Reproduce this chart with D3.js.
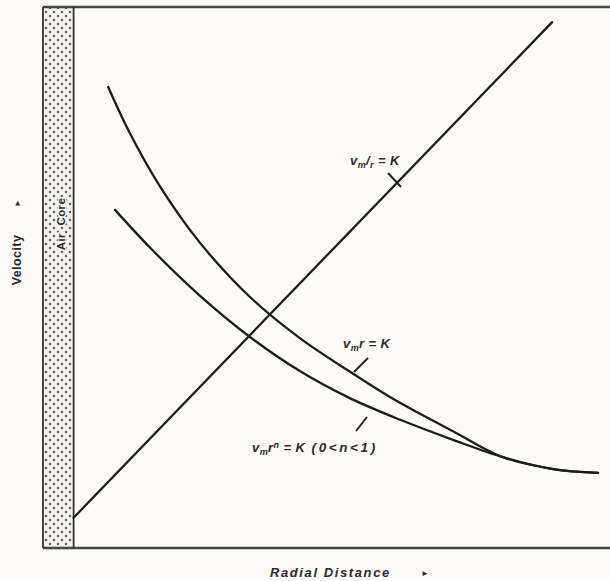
<!DOCTYPE html>
<html>
<head>
<meta charset="utf-8">
<script src="https://cdn.jsdelivr.net/npm/d3@7/dist/d3.min.js"></script>
<style>
  html, body { margin: 0; padding: 0; background: #fcfbf7; }
  svg { display: block; }
  text { font-family: "Liberation Sans", Arial, sans-serif; font-weight: bold; fill: #2a2a2a; }
</style>
</head>
<body>
<svg id="chart" width="610" height="581"></svg>
<script>
// Velocity profiles across a vortex (arbitrary units, 0..100 on each axis)
const airCore = [0, 5.4];                       // radial extent of the air core
const forcedVortex = [[5.4, 5.6], [89.8, 97.2]]; // v/r = K
const freeVortex = [                            // v·r = K
  [11.5, 85.2], [15.3, 76.7], [20.6, 66.9], [27.7, 56.4], [36.5, 46.4],
  [45.3, 38.8], [54.7, 32.2], [61.2, 27.9], [66.5, 24.8], [72.3, 21.6],
  [81.1, 16.8], [90.0, 14.6], [97.9, 13.9]
];
const partialVortex = [                         // v·r^n = K, 0<n<1
  [12.7, 62.5], [18.9, 55.5], [27.7, 46.6], [36.5, 39.0], [45.3, 32.7],
  [54.1, 27.7], [63.0, 23.7], [72.3, 20.0], [81.1, 16.8], [90.0, 14.6],
  [97.9, 13.9]
];
const xLabel = "Radial Distance";
const yLabel = "Velocity";
const coreLabel = "Air Core";

const svg = d3.select("#chart");
const x = d3.scaleLinear().domain([0, 100]).range([43, 610]);
const y = d3.scaleLinear().domain([0, 100]).range([548, 7]);

// stipple pattern for the air core
const defs = svg.append("defs");
const pat = defs.append("pattern").attr("id", "stipple")
  .attr("patternUnits", "userSpaceOnUse").attr("width", 8).attr("height", 8)
  .attr("x", x(0) + 1).attr("y", 2);
pat.append("rect").attr("width", 8).attr("height", 8).attr("fill", "#f5f3ed");
pat.append("circle").attr("cx", 2).attr("cy", 2).attr("r", 1.2).attr("fill", "#5a5a5a");
pat.append("circle").attr("cx", 6).attr("cy", 6).attr("r", 1.2).attr("fill", "#5a5a5a");

svg.append("rect")
  .attr("x", x(airCore[0])).attr("y", y(100))
  .attr("width", x(airCore[1]) - x(airCore[0])).attr("height", y(0) - y(100))
  .attr("fill", "url(#stipple)");

// frame: top, bottom, left edge, air-core boundary
const frame = svg.append("g").attr("stroke", "#333").attr("fill", "none");
frame.append("line").attr("x1", x(0)).attr("x2", x(100)).attr("y1", y(100)).attr("y2", y(100)).attr("stroke-width", 2.4).attr("stroke", "#444");
frame.append("line").attr("x1", x(0)).attr("x2", x(100)).attr("y1", y(0)).attr("y2", y(0)).attr("stroke-width", 2.4).attr("stroke", "#444");
frame.append("line").attr("x1", x(0)).attr("x2", x(0)).attr("y1", y(100)).attr("y2", y(0)).attr("stroke-width", 1.8);
frame.append("line").attr("x1", x(airCore[1])).attr("x2", x(airCore[1])).attr("y1", y(100)).attr("y2", y(0)).attr("stroke-width", 1.8);

// air core label
const coreX = (x(airCore[0]) + x(airCore[1])) / 2 + 3;
const coreY = 224;
svg.append("text")
  .attr("transform", `translate(${coreX},${coreY}) rotate(-90)`)
  .attr("text-anchor", "middle").attr("dy", "0.35em")
  .attr("font-size", 11.5).attr("letter-spacing", 0.4).attr("word-spacing", 4)
  .attr("stroke", "#f5f3ed").attr("stroke-width", 3).attr("paint-order", "stroke")
  .text(coreLabel);

// curves
const line = d3.line().x(d => x(d[0])).y(d => y(d[1])).curve(d3.curveCatmullRom.alpha(0.5));
const curves = svg.append("g").attr("fill", "none").attr("stroke", "#1c1c1c")
  .attr("stroke-width", 2.3).attr("stroke-linecap", "round");
curves.append("path").attr("d", line(forcedVortex));
curves.append("path").attr("d", line(freeVortex));
curves.append("path").attr("d", line(partialVortex));

// curve annotations with leader ticks
function label(px, py, parts) {
  const t = svg.append("text").attr("x", px).attr("y", py)
    .attr("font-size", 13).attr("font-style", "italic").attr("letter-spacing", 0.4);
  parts.forEach(p => {
    const s = t.append("tspan").text(p.t);
    if (p.sub) s.attr("font-size", 9).attr("dy", 3);
    if (p.sup) s.attr("font-size", 9).attr("dy", -4);
    if (p.back) s.attr("dy", p.back);
    if (p.spread) s.attr("letter-spacing", p.spread).attr("font-size", 13.5);
  });
}
const leaders = svg.append("g").attr("stroke", "#222").attr("stroke-width", 2);
leaders.append("line").attr("x1", 388).attr("y1", 173).attr("x2", 401).attr("y2", 187);
leaders.append("line").attr("x1", 368).attr("y1", 358).attr("x2", 354).attr("y2", 372);
leaders.append("line").attr("x1", 367).attr("y1", 417).attr("x2", 356).attr("y2", 431);

label(350, 165, [{t: "v"}, {t: "m", sub: true}, {t: "/", back: -3}, {t: "r", sub: true}, {t: " = K", back: -3}]);
label(343, 348, [{t: "v"}, {t: "m", sub: true}, {t: "r = K", back: -3}]);
label(252, 452, [{t: "v"}, {t: "m", sub: true}, {t: "r", back: -3}, {t: "n", sup: true}, {t: " = K", back: 4},
                 {t: "  (0<n<1)", spread: 2.6}]);

// axis titles
svg.append("text").attr("x", 270).attr("y", 577)
  .attr("font-size", 13).attr("font-style", "italic").attr("letter-spacing", 1.6)
  .text(xLabel);
svg.append("text").attr("x", 421).attr("y", 576).attr("font-size", 8).text("►");

svg.append("text")
  .attr("transform", "translate(17,260) rotate(-90)")
  .attr("text-anchor", "middle").attr("dy", "0.35em")
  .attr("font-size", 12.5).attr("letter-spacing", 0.4)
  .text(yLabel);
svg.append("text")
  .attr("transform", "translate(17,203) rotate(-90)")
  .attr("text-anchor", "middle").attr("dy", "0.35em")
  .attr("font-size", 8).text("►");
</script>
</body>
</html>
